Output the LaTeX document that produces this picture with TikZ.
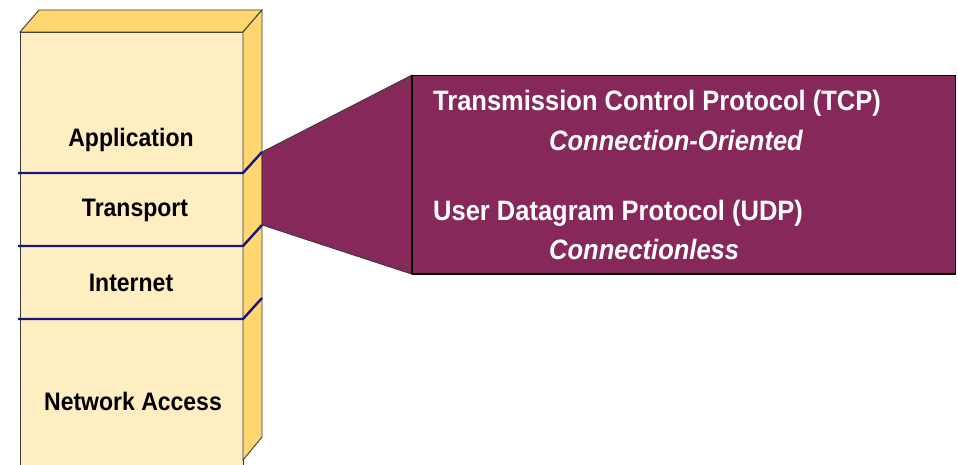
\documentclass[tikz,border=0pt]{standalone}
\usepackage{fontspec}
\setmainfont{Liberation Sans}
\definecolor{frontY}{HTML}{FFEEC2}
\definecolor{sideY}{HTML}{FFD670}
\definecolor{plum}{HTML}{86285A}
\definecolor{navyL}{HTML}{16167E}
\definecolor{edgeG}{HTML}{3A3A3A}
\newcommand{\tallt}[1]{\scalebox{1}[1.1]{#1}}
\begin{document}
\begin{tikzpicture}[x=1pt,y=-1pt,
  layer/.style={font=\fontsize{23}{27}\selectfont\bfseries, text=black, inner sep=0pt},
  proto/.style={font=\fontsize{25.5}{30}\selectfont\bfseries, text=white, anchor=west, inner sep=0pt},
  protoit/.style={proto, font=\fontsize{25.5}{30}\selectfont\bfseries\itshape},
  sep/.style={draw=navyL, line width=2.4pt},
  edge/.style={draw=edgeG, line width=0.9pt}]
\useasboundingbox (0,0) rectangle (958,464);
% block faces
\path[fill=frontY, edge] (20,32) rectangle (243,470);
\path[fill=sideY, edge] (20,32) -- (39,10) -- (262,10) -- (243,32) -- cycle;
\path[fill=sideY, edge] (243,32) -- (262,10) -- (262,437) -- (243,460) -- cycle;
% purple callout
\coordinate (ct) at (262,152);
\coordinate (cb) at (262,225);
\node[draw=black, line width=1.2pt, fill=plum, minimum width=543pt, minimum height=198pt, inner sep=0pt, anchor=north west] (box) at (412,75) {};
\path[fill=plum, draw=edgeG, line width=0.8pt] (ct) -- (box.north west) -- (box.south west) -- (cb) -- cycle;
\draw[black, line width=1.2pt] (box.north west) -- (box.south west);
\draw[black, line width=2pt] (box.south west) -- (box.south east);
% separators
\foreach \y in {173,246,319} {
  \draw[sep] (18,\y) -- (243,\y) -- (262,\y-21);
}
% layer labels
\node[layer] (app) at (131,140) {\tallt{Application}};
\node[layer] (tra) at (135,210) {\tallt{Transport}};
\node[layer] (int) at (131,283) {\tallt{Internet}};
\node[layer] (net) at (133,401) {\tallt{Network Access}};
% protocol texts
\node[proto] (tcp) at (433,103) {\tallt{Transmission Control Protocol (TCP)}};
\node[protoit] (co) at (549,140) {\tallt{Connection-Oriented}};
\node[proto] (udp) at (433,213) {\tallt{User Datagram Protocol (UDP)}};
\node[protoit] (cl) at (549,249) {\tallt{Connectionless}};
\end{tikzpicture}
\end{document}
